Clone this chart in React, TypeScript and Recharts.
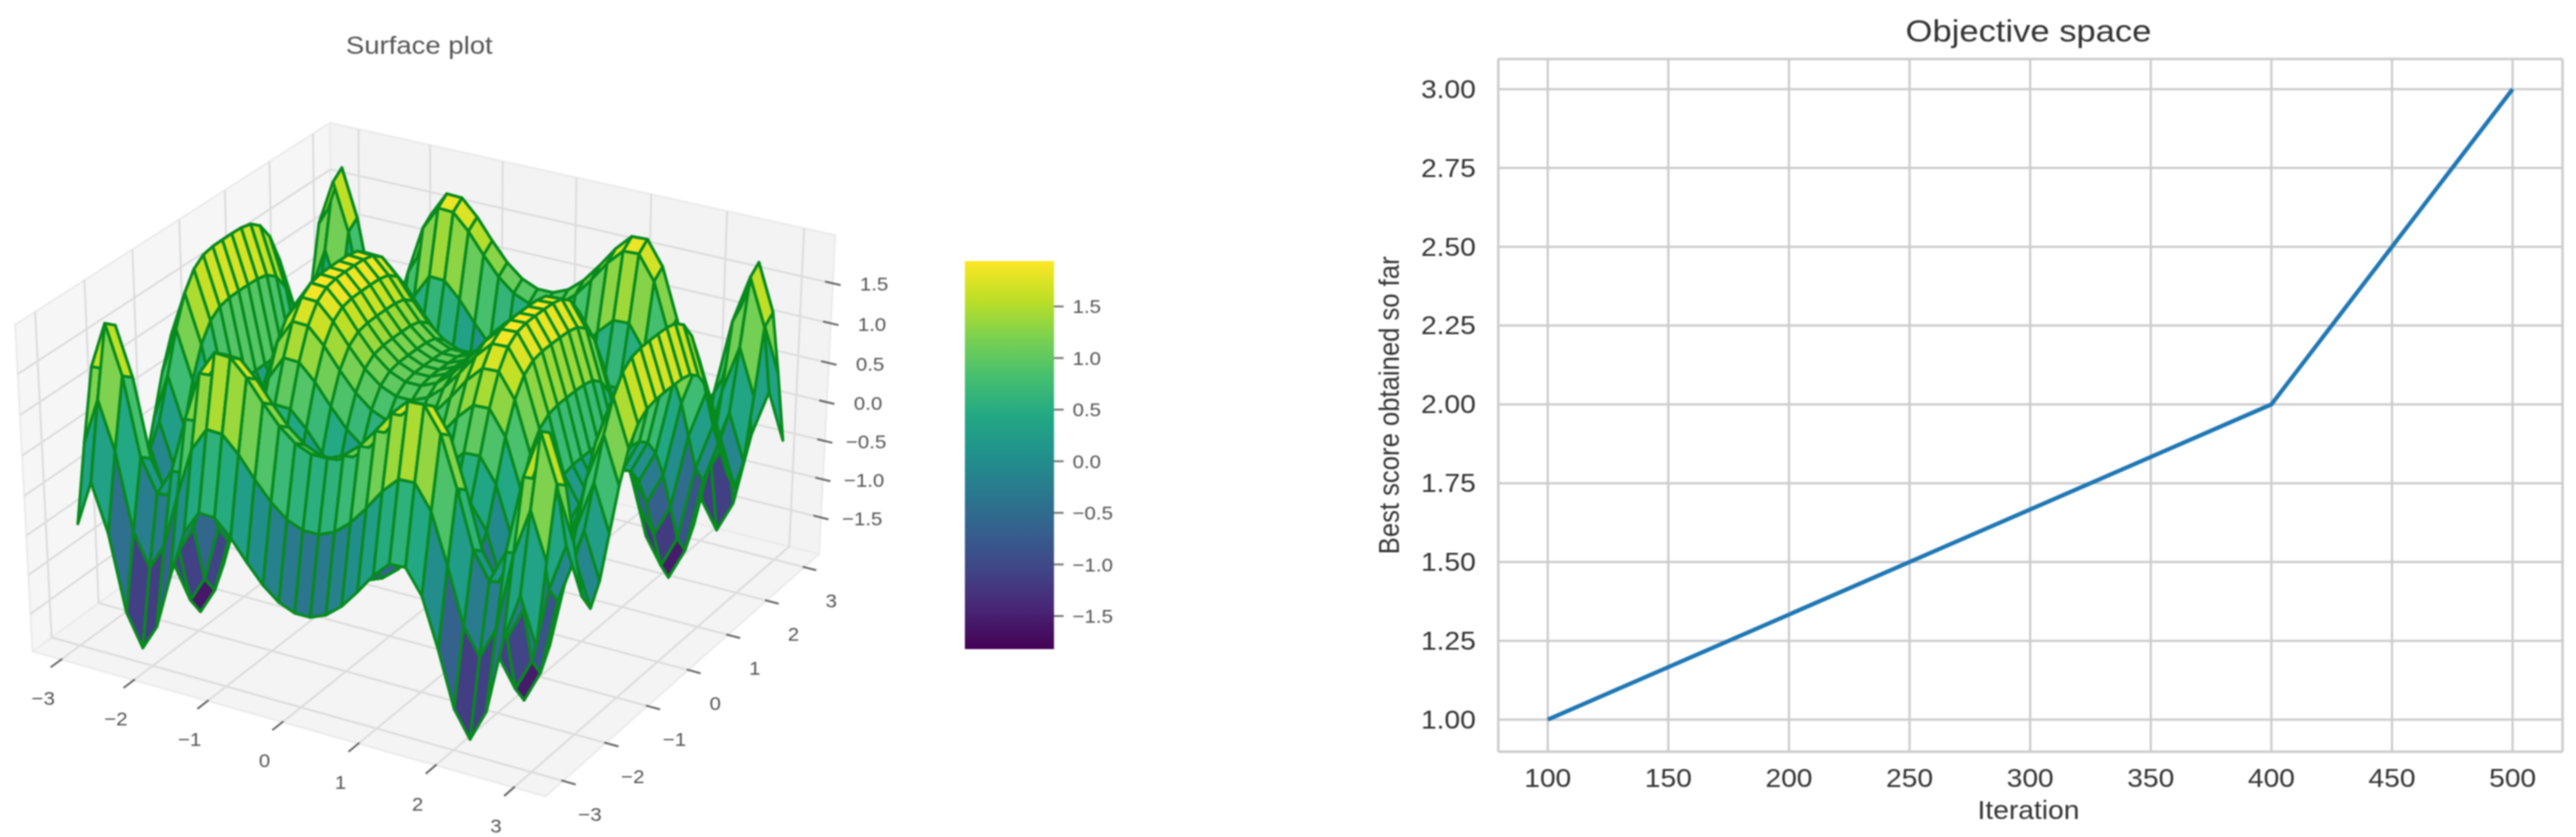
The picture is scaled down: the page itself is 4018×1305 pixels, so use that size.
import React from 'react';
import {
  ScatterChart, Scatter, XAxis, YAxis, LineChart, Line, CartesianGrid, BarChart, Bar, ReferenceLine,
} from 'recharts';

// ---- right panel data
const iterations = [100, 400, 500];
const bestScores = [1, 2, 3];
const iterationTicks = [100, 150, 200, 250, 300, 350, 400, 450, 500];
const scoreTicks = [1, 1.25, 1.5, 1.75, 2, 2.25, 2.5, 2.75, 3];

// ---- surface data: grid coordinates and the two profiles read along the sides of the surface
const gridCoords = [-3, -2.793, -2.586, -2.379, -2.172, -1.966, -1.759, -1.552, -1.345, -1.138, -0.931, -0.724, -0.517, -0.31, -0.103, 0.103, 0.31, 0.517, 0.724, 0.931, 1.138, 1.345, 1.552, 1.759, 1.966, 2.172, 2.379, 2.586, 2.793, 3];
const xProfile = [0.412, 0.999, 0.394, -0.583, -1.0, -0.661, 0.047, 0.669, 0.972, 0.962, 0.762, 0.5, 0.264, 0.096, 0.011, 0.011, 0.096, 0.264, 0.5, 0.762, 0.962, 0.972, 0.669, 0.047, -0.661, -1.0, -0.583, 0.394, 0.999, 0.412];
const yProfile = [-0.911, 0.053, 0.919, 0.813, 0.007, -0.751, -0.999, -0.743, -0.236, 0.272, 0.647, 0.866, 0.965, 0.995, 1.0, 1.0, 0.995, 0.965, 0.866, 0.647, 0.272, -0.236, -0.743, -0.999, -0.751, 0.007, 0.813, 0.919, 0.053, -0.911];
const axisTicks3d = [-3, -2, -1, 0, 1, 2, 3];
const zTicks = [-1.5, -1, -0.5, 0, 0.5, 1, 1.5];
const colorbarTicks = [-1.5, -1, -0.5, 0, 0.5, 1, 1.5];
const colorRange = [-1.82, 1.94];
const faceColorRange = [-1.95, 1.94];
const viridis = ['#440154', '#482475', '#414487', '#355f8d', '#2a788e', '#21918c', '#22a884', '#44bf70', '#7ad151', '#bddf26', '#fde725'];

// ---- 3D view
const XLIM = 3.4;
const ZLIM = 2.04;
const HXY = 0.5715;
const HZ = 0.416;
const Z_TICK_SHIFT = -0.055;
const SURFACE_Z = 0.975;
const SURFACE_DX = 5;
const SURFACE_DY = -1;
const project = (x: number, y: number, z: number) => {
  const X = (x / XLIM) * HXY, Y = (y / XLIM) * HXY, Z = (z / ZLIM) * HZ;
  const u = 0.866 * X + 0.5 * Y;
  const v = -0.25 * X + 0.433 * Y + 0.866 * Z;
  const w = 0.433 * X - 0.75 * Y + 0.5 * Z;
  const p = 1 / (1 - w / 10);
  return { sx: 675 + 802 * u * p, sy: 692 - 698 * v * p, w };
};

const FONT = '"Liberation Sans", Arial, sans-serif';
const T = ({ x, y, size, fill = '#333', anchor = 'middle', rot = 0, sx = 1.1, children }: any) => (
  <text
    transform={`translate(${x},${y}) scale(${sx},1) rotate(${rot})`}
    fontFamily={FONT}
    fontSize={size}
    fill={fill}
    textAnchor={anchor}
    dominantBaseline="central"
  >
    {children}
  </text>
);

const hex = (s: string) => [1, 3, 5].map((i) => parseInt(s.slice(i, i + 2), 16));
const colorOf = (z: number) => {
  const t = Math.max(0, Math.min(1, (z - faceColorRange[0]) / (faceColorRange[1] - faceColorRange[0]))) * (viridis.length - 1);
  const i = Math.min(viridis.length - 2, Math.floor(t));
  const a = hex(viridis[i]), b = hex(viridis[i + 1]);
  const c = a.map((v, k) => Math.round(v + (b[k] - v) * (t - i)));
  return `rgb(${c[0]},${c[1]},${c[2]})`;
};

const mark = (corners: number[][], fill: string, stroke: string, width: number) => {
  const pr = corners.map(([x, y, z]) => project(x, y, z));
  const px = pr[0].sx, py = pr[0].sy;
  return { px, py, rel: pr.map((q) => [q.sx - px, q.sy - py]), fill, stroke, width, depth: pr.reduce((s, q) => s + q.w, 0) / pr.length };
};

// panes, gridlines
const zTop = ZLIM, zBot = -ZLIM;
const paneMarks = [
  mark([[-XLIM, -XLIM, zBot], [XLIM, -XLIM, zBot], [XLIM, XLIM, zBot], [-XLIM, XLIM, zBot]], '#f4f4f4', '#ebebeb', 3),
  mark([[-XLIM, -XLIM, zBot], [-XLIM, XLIM, zBot], [-XLIM, XLIM, zTop], [-XLIM, -XLIM, zTop]], '#f6f6f6', '#ebebeb', 3),
  mark([[-XLIM, XLIM, zBot], [XLIM, XLIM, zBot], [XLIM, XLIM, zTop], [-XLIM, XLIM, zTop]], '#f3f3f3', '#ebebeb', 3),
];
const gridMarks = [
  ...axisTicks3d.map((t) => mark([[t, -XLIM, zBot], [t, XLIM, zBot], [t, XLIM, zTop]], 'none', '#dcdcdc', 3)),
  ...axisTicks3d.map((t) => mark([[XLIM, t, zBot], [-XLIM, t, zBot], [-XLIM, t, zTop]], 'none', '#dcdcdc', 3)),
  ...zTicks.map((t) => mark([[-XLIM, -XLIM, t + Z_TICK_SHIFT], [-XLIM, XLIM, t + Z_TICK_SHIFT], [XLIM, XLIM, t + Z_TICK_SHIFT]], 'none', '#dcdcdc', 3)),
];
const tickMarks = [
  ...axisTicks3d.map((t) => mark([[t, -XLIM + 0.02, zBot], [t, -XLIM - 0.22, zBot]], 'none', '#666', 3)),
  ...axisTicks3d.map((t) => mark([[XLIM - 0.02, t, zBot], [XLIM + 0.16, t, zBot]], 'none', '#666', 3)),
  ...zTicks.map((t) => mark([[XLIM - 0.1, XLIM, t + Z_TICK_SHIFT], [XLIM + 0.1, XLIM, t + Z_TICK_SHIFT]], 'none', '#666', 3)),
];

// surface cells, painted from back to front
const surfaceMarks = (() => {
  const out: any[] = [];
  for (let j = 0; j < gridCoords.length - 1; j++) {
    for (let i = 0; i < gridCoords.length - 1; i++) {
      const c = [[i, j], [i + 1, j], [i + 1, j + 1], [i, j + 1]].map(([a, b]) => [gridCoords[a], gridCoords[b], xProfile[a] + yProfile[b]]);
      const avg = c.reduce((s, q) => s + q[2], 0) / 4;
      const m = mark(c.map((q) => [q[0], q[1], q[2] * SURFACE_Z]), colorOf(avg), '#078a1e', 4.5);
      out.push({ ...m, px: m.px + SURFACE_DX, py: m.py + SURFACE_DY });
    }
  }
  return out.sort((a, b) => a.depth - b.depth);
})();

const fmtMinus = (v: number, d: number) => (v < 0 ? '\u2212' : '') + Math.abs(v).toFixed(d);
const labelMarks = [
  ...axisTicks3d.map((t) => { const q = project(t, -XLIM, zBot); return { px: q.sx - 28, py: q.sy + 60, text: fmtMinus(t, 0) }; }),
  ...axisTicks3d.map((t) => { const q = project(XLIM, t, zBot); return { px: q.sx + 42, py: q.sy + 52, text: fmtMinus(t, 0) }; }),
  ...zTicks.map((t) => { const q = project(XLIM, XLIM, t); return { px: q.sx + 64, py: q.sy + 8, text: fmtMinus(t, 1) }; }),
];

const drawPath = (props: any) => {
  const { cx, cy, payload } = props;
  const p = payload ?? props;
  const d = p.rel.map((r: number[], i: number) => `${i ? 'L' : 'M'}${(cx + r[0]).toFixed(1)} ${(cy + r[1]).toFixed(1)}`).join('') + (p.fill !== 'none' ? 'Z' : '');
  return <path d={d} fill={p.fill} stroke={p.stroke} strokeWidth={p.width} strokeLinejoin="round" strokeLinecap="butt" />;
};
const drawLabel = (props: any) => {
  const { cx, cy, payload } = props;
  const p = payload ?? props;
  return <T x={cx} y={cy} size={29} fill="#555">{p.text}</T>;
};

const PANEL_W = 1400;
const PANEL_H = 1305;

const SurfacePanel = () => (
  <div style={{ position: 'absolute', left: 0, top: 0 }}>
    <ScatterChart width={PANEL_W} height={PANEL_H} margin={{ top: 0, right: 0, bottom: 0, left: 0 }}>
      <XAxis type="number" dataKey="px" domain={[0, PANEL_W]} hide />
      <YAxis type="number" dataKey="py" domain={[0, PANEL_H]} reversed hide />
      <Scatter data={paneMarks} shape={drawPath} isAnimationActive={false} />
      <Scatter data={gridMarks} shape={drawPath} isAnimationActive={false} />
      <Scatter data={tickMarks} shape={drawPath} isAnimationActive={false} />
      <Scatter data={surfaceMarks} shape={drawPath} isAnimationActive={false} />
      <Scatter data={labelMarks} shape={drawLabel} isAnimationActive={false} />
      <T x={654} y={71} size={39} fill="#555">Surface plot</T>
    </ScatterChart>
  </div>
);

const colorbarData = [{ name: 'z', range: colorRange }];
const ColorbarTick = ({ x, y, payload }: any) => (
  <T x={x} y={y} size={29} fill="#555" anchor="start">{fmtMinus(payload.value, 1)}</T>
);
const Colorbar = () => (
  <div style={{ position: 'absolute', left: 1505, top: 407 }}>
    <BarChart width={259} height={605} data={colorbarData} barCategoryGap={0} margin={{ top: 0, right: 0, bottom: 0, left: 0 }}>
      <defs>
        <linearGradient id="viridisBar" x1="0" y1="1" x2="0" y2="0">
          {viridis.map((c, i) => <stop key={c} offset={i / (viridis.length - 1)} stopColor={c} />)}
        </linearGradient>
      </defs>
      <XAxis dataKey="name" hide />
      <YAxis
        orientation="right"
        type="number"
        width={120}
        domain={colorRange}
        ticks={colorbarTicks}
        axisLine={false}
        tickLine={{ stroke: '#777', strokeWidth: 3 }}
        tickSize={15}
        tickMargin={14}
        tick={<ColorbarTick />}
        interval={0}
        allowDataOverflow
      />
      <Bar dataKey="range" fill="url(#viridisBar)" isAnimationActive={false} />
    </BarChart>
  </div>
);

const objectiveRows = iterations.map((it, i) => ({ it, score: bestScores[i] }));
const XTick = ({ x, payload }: any) => <T x={x} y={1213} size={40}>{payload.value}</T>;
const YTick = ({ y, payload }: any) => <T x={2302 - 2100} y={y} size={40} anchor="end">{payload.value.toFixed(2)}</T>;

const ObjectivePanel = () => (
  <div style={{ position: 'absolute', left: 2100, top: 0 }}>
    <LineChart width={1918} height={1305} data={objectiveRows} margin={{ top: 92, right: 21, bottom: 0, left: 0 }}>
      <CartesianGrid stroke="#cccccc" strokeWidth={3.5} />
      <XAxis
        type="number"
        dataKey="it"
        domain={[79.5, 520.7]}
        ticks={iterationTicks}
        height={133}
        axisLine={{ stroke: '#cccccc', strokeWidth: 3.5 }}
        tickLine={false}
        tick={<XTick />}
        interval={0}
      />
      <YAxis
        type="number"
        domain={[0.8983, 3.0956]}
        ticks={scoreTicks}
        width={237}
        axisLine={{ stroke: '#cccccc', strokeWidth: 3.5 }}
        tickLine={false}
        tick={<YTick />}
        interval={0}
      />
      <ReferenceLine x={520.7} stroke="#cccccc" strokeWidth={3.5} />
      <ReferenceLine y={3.0956} stroke="#cccccc" strokeWidth={3.5} />
      <Line type="linear" dataKey="score" stroke="#1f77b4" strokeWidth={6.5} dot={false} isAnimationActive={false} />
      <T x={1064} y={48} size={49} fill="#333">Objective space</T>
      <T x={1064} y={1263} size={40}>Iteration</T>
      <T x={67} y={632} size={40} rot={-90}>Best score obtained so far</T>
    </LineChart>
  </div>
);

export default function App() {
  return (
    <div style={{ position: 'absolute', left: 0, top: 0, width: 4018, height: 1305, background: '#fff', overflow: 'hidden', filter: 'blur(1px)' }}>
      <SurfacePanel />
      <Colorbar />
      <ObjectivePanel />
    </div>
  );
}
